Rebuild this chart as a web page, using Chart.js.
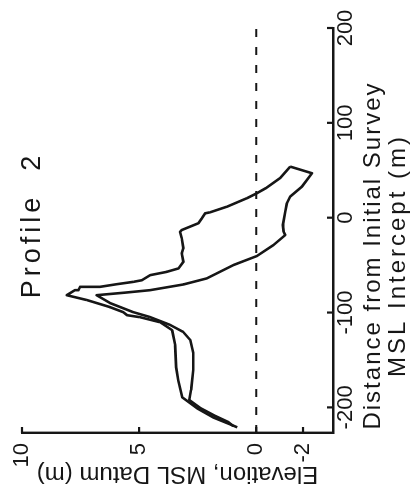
<!DOCTYPE html>
<html><head><meta charset="utf-8">
<script src="https://cdn.jsdelivr.net/npm/chart.js@4/dist/chart.umd.min.js"></script>
<style>
html,body{margin:0;padding:0;background:#fff;overflow:hidden;width:413px;height:492px;}
#wrap{position:absolute;left:0;top:0;width:492px;height:413px;transform-origin:0 0;transform:translate(0px,492px) rotate(-90deg);}
canvas{display:block;}
</style></head><body>
<div id="wrap"><canvas id="c" width="492" height="413"></canvas></div>
<script>
// ---- data (distance in m, elevation in m) ----
const distanceTicks = [-200, -100, 0, 100, 200];
const elevationTicks = [10, 5, 0, -2];
const distanceRange = [-227, 200];
const elevationRange = [-3.28, 10];
const mslLevel = 0;

const profileA_distance = [-221, -217.9, -210.5, -201, -189.4, -171.5, -157.7, -134.5, -118.6, -110.2, -104.9, -102.8, -99.6, -94.3, -86.9, -81.7, -76.4, -76.4, -72.9, -72.9, -70.1, -67.6, -65.9, -60.6, -57.1, -53.5, -46.5, -37.6, -32.3, -21.7, -14.8, -13, -5.9, -0.6, 4.6, 5.7, 11.6, 20.5, 25.8, 31.4, 41.9, 53.9];
const profileA_elevation = [0.81, 1.11, 1.84, 2.52, 3.16, 3.33, 3.42, 3.46, 3.59, 4.10, 4.96, 5.51, 5.68, 6.24, 7.22, 8.09, 7.74, 7.59, 7.52, 6.67, 5.95, 5.24, 4.88, 4.53, 3.82, 3.32, 3.11, 3.18, 3.11, 3.18, 3.25, 3.18, 2.47, 2.32, 2.18, 1.97, 1.25, 0.40, -0.03, -0.43, -1.03, -1.45];

const profileB_distance = [-219.7, -215.4, -209, -200.6, -192.2, -181.6, -160.5, -142.5, -128.8, -120.4, -113, -104.8, -99.5, -90, -81.7, -79, -76.4, -70.4, -64, -49.9, -40.4, -28.8, -18.3, -14.8, -7.7, 6.3, 15.2, 22.2, 32.7, 46.9, 53.9];
const profileB_elevation = [0.98, 1.2, 1.75, 2.39, 2.86, 2.78, 2.69, 2.69, 2.82, 3.12, 3.68, 4.53, 5.26, 6.24, 6.81, 5.6, 4.53, 3.11, 2.11, 0.97, -0.03, -0.74, -1.24, -1.17, -1.14, -1.24, -1.31, -1.45, -1.95, -2.38, -1.45];

const titleText = 'Profile  2';
const xTitleLines = ['Distance from Initial Survey', 'MSL Intercept (m)'];
const yTitleText = 'Elevation, MSL Datum (m)';

// ---- build ----
const INK = '#161616';
const FONT = '"Liberation Sans", Arial, sans-serif';
const zip = (xs, ys) => xs.map((x, i) => ({x: x, y: ys[i]}));

const decor = {
  id: 'decor',
  beforeDraw(chart) {
    const c = chart.ctx;
    c.save(); c.fillStyle = '#fff'; c.fillRect(0, 0, chart.width, chart.height); c.restore();
  },
  afterDraw(chart) {
    const c = chart.ctx, a = chart.chartArea;
    const xs = chart.scales.x, ys = chart.scales.y;
    c.save();
    c.strokeStyle = INK; c.lineWidth = 2.2;
    // inward tick marks
    distanceTicks.forEach(v => {
      const p = xs.getPixelForValue(v);
      c.beginPath(); c.moveTo(p, a.bottom); c.lineTo(p, a.bottom - 6); c.stroke();
    });
    elevationTicks.forEach(v => {
      const p = ys.getPixelForValue(v);
      c.beginPath(); c.moveTo(a.left, p); c.lineTo(a.left + 6, p); c.stroke();
    });
    c.fillStyle = INK;
    c.textBaseline = 'alphabetic';
    c.textAlign = 'center';
    // chart title
    c.font = '27px ' + FONT;
    c.letterSpacing = '4px';
    c.fillText(titleText, a.left + 208, a.top + 18);
    // x axis title (two lines)
    c.font = '24px ' + FONT;
    c.letterSpacing = '2px';
    const cx = (a.left + a.right) / 2 - 25;
    c.fillText(xTitleLines[0], cx, a.bottom + 47);
    c.letterSpacing = '3px';
    c.fillText(xTitleLines[1], cx, a.bottom + 72);
    c.restore();
  }
};

new Chart(document.getElementById('c').getContext('2d'), {
  type: 'scatter',
  data: {
    datasets: [
      {data: zip(profileA_distance, profileA_elevation), showLine: true, borderColor: INK, borderWidth: 2.6, pointRadius: 0, tension: 0, fill: false, borderJoinStyle: 'round'},
      {data: zip(profileB_distance, profileB_elevation), showLine: true, borderColor: INK, borderWidth: 2.6, pointRadius: 0, tension: 0, fill: false, borderJoinStyle: 'round'},
      {data: [{x: distanceRange[0], y: mslLevel}, {x: distanceRange[1], y: mslLevel}], showLine: true, borderColor: INK, borderWidth: 2, borderDash: [8, 10], pointRadius: 0, fill: false}
    ]
  },
  options: {
    responsive: false, animation: false, devicePixelRatio: 1,
    layout: {padding: {top: 22, right: 28, bottom: 0, left: 0}},
    plugins: {legend: {display: false}, tooltip: {enabled: false}, title: {display: false}},
    scales: {
      x: {
        type: 'linear', min: distanceRange[0], max: distanceRange[1],
        afterBuildTicks: s => { s.ticks = distanceTicks.map(v => ({value: v})); },
        afterFit: s => { s.height = 80; s.paddingLeft = 0; s.paddingRight = 0; },
        grid: {display: false, drawTicks: false, tickLength: 0},
        border: {display: true, color: INK, width: 2.4},
        ticks: {color: INK, font: {family: FONT, size: 22}, padding: 0, maxRotation: 0, autoSkip: false}
      },
      y: {
        type: 'linear', min: elevationRange[0], max: elevationRange[1],
        afterBuildTicks: s => { s.ticks = elevationTicks.map(v => ({value: v})); },
        afterFit: s => { s.width = 59; s.paddingTop = 0; s.paddingBottom = 0; },
        grid: {display: false, drawTicks: false, tickLength: 0},
        border: {display: true, color: INK, width: 2.4},
        ticks: {color: INK, font: {family: FONT, size: 22}, padding: 10, autoSkip: false},
        title: {display: true, text: yTitleText, color: INK, font: {family: FONT, size: 24}, padding: {top: 4, bottom: 0}}
      }
    }
  },
  plugins: [decor]
});
</script>
</body></html>
